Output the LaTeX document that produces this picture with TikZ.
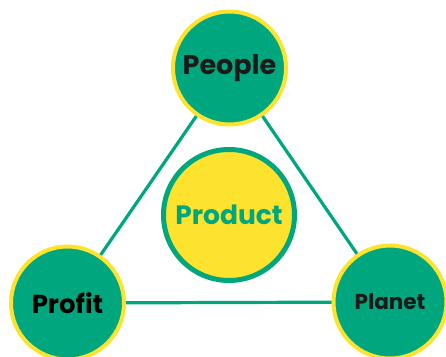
\documentclass[tikz,border=0pt]{standalone}
\usepackage{fontspec}
\setmainfont{Poppins}
\usepackage{xcolor}
\definecolor{pgreen}{RGB}{0,166,126}
\definecolor{pyellow}{RGB}{253,226,46}
\definecolor{pdark}{RGB}{26,26,26}

\begin{document}
\begin{tikzpicture}[x=1pt,y=1pt,
	pillar/.style={circle,draw=pyellow,fill=pgreen,line width=4pt,minimum size=113pt,inner sep=0pt,font=\bfseries},
	core/.style={circle,draw=pgreen,fill=pyellow,line width=5pt,minimum size=131pt,inner sep=0pt,font=\bfseries\fontsize{26.5}{28}\selectfont,text=pgreen},
	link/.style={draw=pgreen,line width=3.2pt}]
	\useasboundingbox (0,0) rectangle (446,356);
	\clip (0,0) rectangle (446,356);
	\node[pillar,text=pdark,font=\bfseries\fontsize{27}{29}\selectfont] (people) at (229.5,288) {People};
	\node[pillar,text=black,font=\bfseries\fontsize{26}{28}\selectfont] (profit) at (67.5,53) {Profit};
	\node[pillar,text=pdark,font=\bfseries\fontsize{21.5}{24}\selectfont] (planet) at (390,54) {Planet};
	\node[core] (product) at (229,141) {Product};
	
	\draw[link] (people) -- (profit);
	\draw[link] (people) -- (planet);
	\draw[link] (profit) -- (planet);
\end{tikzpicture}
\end{document}
